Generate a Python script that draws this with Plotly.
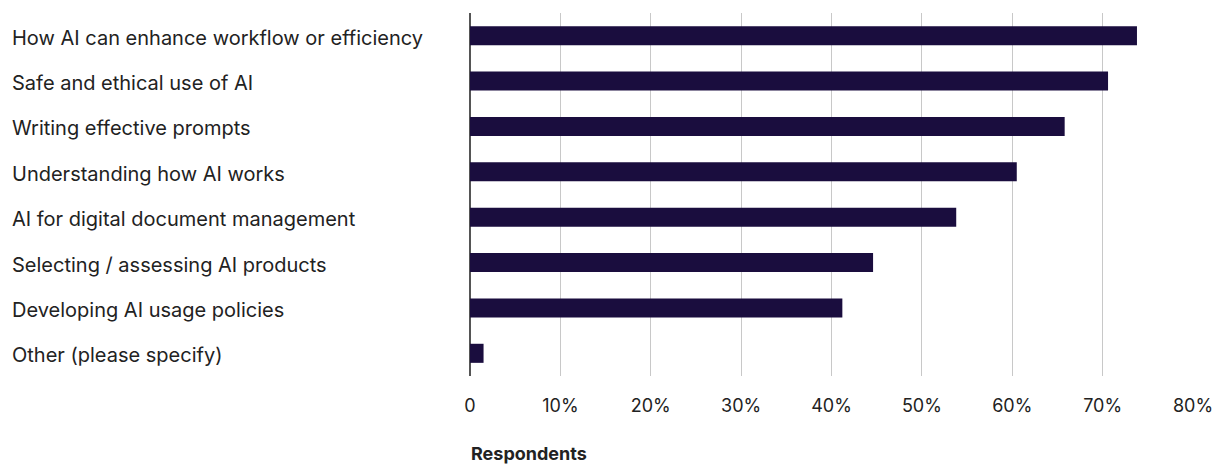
import plotly.graph_objects as go

categories = [
    "How AI can enhance workflow or efficiency",
    "Safe and ethical use of AI",
    "Writing effective prompts",
    "Understanding how AI works",
    "AI for digital document management",
    "Selecting / assessing AI products",
    "Developing AI usage policies",
    "Other (please specify)",
]
values = [73.8, 70.6, 65.8, 60.5, 53.8, 44.6, 41.2, 1.5]
tick_vals = [0, 10, 20, 30, 40, 50, 60, 70, 80]
tick_text = ["0", "10%", "20%", "30%", "40%", "50%", "60%", "70%", "80%"]
axis_title = "Respondents"

FONT = "Inter"
W, H = 1215, 464
ML, MR, MT, MB = 470, 22, 13, 88
plot_w = W - ML - MR
plot_h = H - MT - MB

fig = go.Figure(
    go.Bar(
        x=values,
        y=categories,
        orientation="h",
        marker=dict(color="#1a0d3e", line=dict(width=0)),
        width=0.42,
        hoverinfo="x+y",
    )
)

annotations = []
for c in categories:
    annotations.append(
        dict(
            text=c,
            xref="paper",
            yref="y",
            x=(10 - ML) / plot_w,
            y=c,
            yshift=-2,
            xanchor="left",
            yanchor="middle",
            showarrow=False,
            font=dict(family=FONT, size=20, color="#222222"),
        )
    )
annotations.append(
    dict(
        text="<b>" + axis_title + "</b>",
        xref="paper",
        yref="paper",
        x=(469 - ML) / plot_w,
        y=(MT + plot_h - 453) / plot_h,
        xanchor="left",
        yanchor="middle",
        showarrow=False,
        font=dict(family=FONT, size=18, color="#222222"),
    )
)

fig.update_layout(
    width=W,
    height=H,
    margin=dict(l=ML, r=MR, t=MT, b=MB, pad=0, autoexpand=False),
    paper_bgcolor="white",
    plot_bgcolor="white",
    showlegend=False,
    bargap=0.58,
    annotations=annotations,
    xaxis=dict(
        range=[0, 80],
        tickvals=tick_vals,
        ticktext=tick_text,
        automargin=False,
        showgrid=True,
        gridcolor="#c8c8c8",
        gridwidth=1,
        zeroline=True,
        zerolinecolor="#555555",
        zerolinewidth=1.5,
        showline=False,
        ticks="outside",
        ticklen=13,
        tickcolor="rgba(0,0,0,0)",
        tickfont=dict(family=FONT, size=18, color="#222222"),
        fixedrange=True,
    ),
    yaxis=dict(
        autorange="reversed",
        automargin=False,
        showticklabels=False,
        showgrid=False,
        zeroline=False,
        showline=False,
        fixedrange=True,
    ),
)

fig.write_html("out.html")
